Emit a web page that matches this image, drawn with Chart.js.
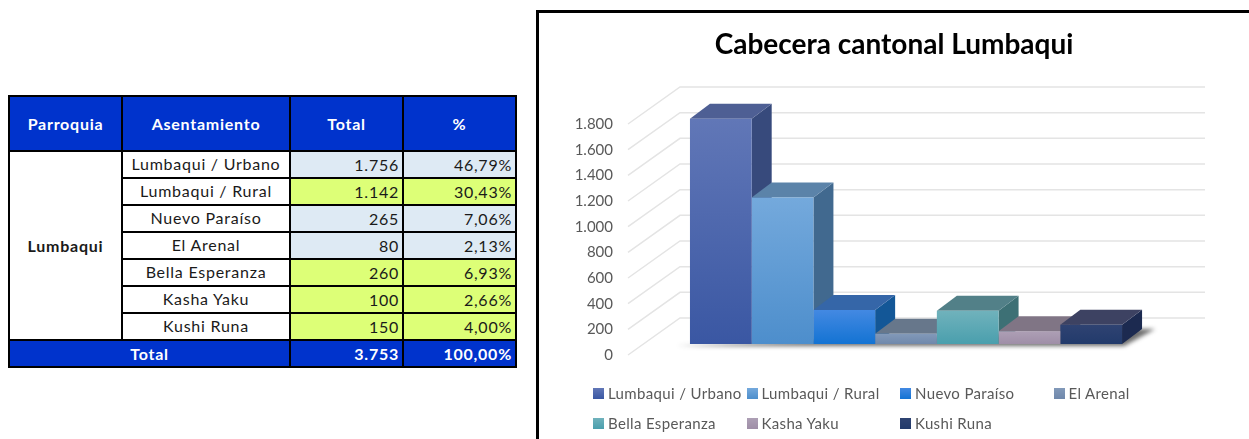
<!DOCTYPE html>
<html lang="es">
<head>
<meta charset="utf-8">
<title>Cabecera cantonal Lumbaqui</title>
<script src="https://cdn.jsdelivr.net/npm/chart.js@4"></script>
<style>
  html, body { margin: 0; padding: 0; background: #fff; width: 1249px; height: 439px; overflow: hidden; font-family: Lato, sans-serif; }
  #tableWrap { position: absolute; left: 8px; top: 95px; }
  table { border-collapse: collapse; table-layout: fixed; width: 507px; font-size: 16px; color: #1a1a1a; letter-spacing: 0.75px; }
  th, td { border: 2px solid #000; padding: 0; height: 25px; text-align: center; }
  thead th { height: 53px; background: #0033cc; color: #fff; font-size: 16px; }
  td.name { padding-bottom: 2px; height: 23px; }
  td.num { text-align: right; padding-right: 3px; }
  td.parish { font-weight: bold; font-size: 16px; }
  tr.total td { background: #0033cc; color: #fff; font-weight: bold; font-size: 16px; }
  #chartBox { position: absolute; left: 536px; top: 10px; width: 716px; height: 432px; border: 3px solid #000; box-sizing: border-box; overflow: hidden; background: #fff; }
  #chartBox canvas { position: absolute; left: 0; top: 0; }
  #title { position: absolute; left: 0; top: 12px; width: 710px; text-align: center; font-size: 28px; line-height: 36px; font-weight: bold; color: #000; }
  #legend { position: absolute; left: 54px; top: 367px; width: 640px; display: grid; grid-template-columns: 153.5px 153.5px 153.5px 153.5px; grid-auto-rows: 30px; font-size: 15px; color: #595959; letter-spacing: 0.35px; }
  #legend div { display: flex; align-items: center; white-space: nowrap; height: 26px; }
  #legend i { display: inline-block; width: 11px; height: 11px; margin-right: 4px; flex: none; }
</style>
</head>
<body>
<div id="tableWrap"></div>
<div id="chartBox">
  <canvas id="chart" width="710" height="426"></canvas>
  <div id="title"></div>
  <div id="legend"></div>
</div>
<script>
// ---- data ----
const categories = ['Lumbaqui / Urbano', 'Lumbaqui / Rural', 'Nuevo Paraíso', 'El Arenal', 'Bella Esperanza', 'Kasha Yaku', 'Kushi Runa'];
const totals = [1756, 1142, 265, 80, 260, 100, 150];
const percents = ['46,79%', '30,43%', '7,06%', '2,13%', '6,93%', '2,66%', '4,00%'];
const rowFills = ['#deeaf4', '#ddff77', '#deeaf4', '#deeaf4', '#ddff77', '#ddff77', '#ddff77'];
const headers = ['Parroquia', 'Asentamiento', 'Total', '%'];
const parish = 'Lumbaqui';
const totalLabel = 'Total';
const grandTotal = '3.753';
const grandPercent = '100,00%';
const chartTitle = 'Cabecera cantonal Lumbaqui';

// bar face colours, one per series
const frontTop = ['#6177b7', '#74a9dc', '#4389e2', '#8299b9', '#70b2bc', '#ad9fb5', '#2f4372'];
const frontBottom = ['#3a57a3', '#4d8ecc', '#1373d3', '#6f88ab', '#4a9fad', '#9f8ea7', '#223a6b'];
const topFace = ['#4e5f94', '#5b83a9', '#3566a8', '#67778b', '#528088', '#807585', '#3d4262'];
const sideFace = ['#374a7c', '#41698f', '#135797', '#55657c', '#3d7075', '#6b6070', '#1c2a50'];

// 3D look: floor depth and bar depth
const WALL_DX = 52, WALL_DY = 37;
const BAR_DX = 20, BAR_DY = 15;
const BAR_SHIFT_X = 15.5, BAR_SHIFT_Y = 11;

const fmt = v => v.toLocaleString('de-DE');

// ---- table ----
function buildTable() {
  let html = '<table><colgroup><col style="width:113px"><col style="width:168px"><col style="width:113px"><col style="width:113px"></colgroup><thead><tr>';
  headers.forEach(h => { html += '<th>' + h + '</th>'; });
  html += '</tr></thead><tbody>';
  categories.forEach((c, i) => {
    html += '<tr>';
    if (i === 0) html += '<td class="parish" rowspan="' + categories.length + '">' + parish + '</td>';
    html += '<td class="name">' + c + '</td>';
    html += '<td class="num" style="background:' + rowFills[i] + '">' + fmt(totals[i]) + '</td>';
    html += '<td class="num" style="background:' + rowFills[i] + '">' + percents[i] + '</td></tr>';
  });
  html += '<tr class="total"><td colspan="2">' + totalLabel + '</td><td class="num">' + grandTotal + '</td><td class="num">' + grandPercent + '</td></tr>';
  html += '</tbody></table>';
  document.getElementById('tableWrap').innerHTML = html;
}

// ---- legend ----
function buildLegend() {
  document.getElementById('legend').innerHTML = categories.map((c, i) =>
    '<div><i style="background:linear-gradient(' + frontTop[i] + ',' + frontBottom[i] + ')"></i>' + c + '</div>').join('');
}

// side wall lines and back grid, then the depth faces of the bars
const walls3d = {
  id: 'walls3d',
  beforeDatasetsDraw(chart) {
    const { ctx, scales: { y }, chartArea } = chart;
    ctx.save();
    ctx.lineWidth = 1.5;
    ctx.strokeStyle = '#e4e4e4';
    y.ticks.forEach(t => {
      const p = y.getPixelForValue(t.value);
      ctx.beginPath();
      ctx.moveTo(chartArea.left, p);
      ctx.lineTo(chartArea.left + WALL_DX, p - WALL_DY);
      ctx.lineTo(chartArea.right + WALL_DX, p - WALL_DY);
      ctx.stroke();
    });
    ctx.restore();

    // everything for the bars sits deeper than the axis plane
    ctx.save();
    ctx.translate(BAR_SHIFT_X, -BAR_SHIFT_Y);

    const first = chart.getDatasetMeta(0).data[0];
    const last = chart.getDatasetMeta(categories.length - 1).data[0];
    const base = first.base;
    ctx.save();
    ctx.filter = 'blur(2px)';
    ctx.fillStyle = 'rgba(30,30,30,0.65)';
    ctx.beginPath();
    ctx.moveTo(first.x - first.width / 2 - 13, base + 2);
    ctx.lineTo(last.x + last.width / 2 + 2, base + 2);
    ctx.lineTo(last.x + last.width / 2 + BAR_DX + 13, base - BAR_DY);
    ctx.lineTo(last.x + last.width / 2, base - BAR_DY);
    ctx.closePath();
    ctx.fill();
    ctx.restore();

    categories.forEach((c, i) => {
      const b = chart.getDatasetMeta(i).data[0];
      const l = b.x - b.width / 2, r = b.x + b.width / 2;
      ctx.fillStyle = sideFace[i];
      ctx.beginPath();
      ctx.moveTo(r, b.y);
      ctx.lineTo(r + BAR_DX, b.y - BAR_DY);
      ctx.lineTo(r + BAR_DX, b.base - BAR_DY);
      ctx.lineTo(r, b.base);
      ctx.closePath();
      ctx.fill();
      ctx.fillStyle = topFace[i];
      ctx.beginPath();
      ctx.moveTo(l, b.y);
      ctx.lineTo(l + BAR_DX, b.y - BAR_DY);
      ctx.lineTo(r + BAR_DX, b.y - BAR_DY);
      ctx.lineTo(r, b.y);
      ctx.closePath();
      ctx.fill();
    });
  },
  afterDatasetsDraw(chart) {
    chart.ctx.restore();
  }
};

function frontGradient(i) {
  return function (context) {
    const { chart } = context;
    const y = chart.scales.y;
    if (!y) return frontBottom[i];
    const y0 = y.getPixelForValue(totals[i]);
    const y1 = y.getPixelForValue(0);
    // scales are not laid out on the first option pass
    if (!Number.isFinite(y0) || !Number.isFinite(y1)) return frontBottom[i];
    const g = chart.ctx.createLinearGradient(0, y0, 0, y1);
    g.addColorStop(0, frontTop[i]);
    g.addColorStop(1, frontBottom[i]);
    return g;
  };
}

buildTable();
buildLegend();
document.getElementById('title').textContent = chartTitle;

new Chart(document.getElementById('chart'), {
  type: 'bar',
  data: {
    labels: [''],
    datasets: categories.map((c, i) => ({
      label: c,
      data: [totals[i]],
      backgroundColor: frontGradient(i),
      borderWidth: 0,
      barPercentage: 1,
      categoryPercentage: 0.823
    }))
  },
  options: {
    responsive: false,
    animation: false,
    layout: { padding: { top: 111, right: 96, bottom: 84 } },
    plugins: {
      legend: { display: false },
      tooltip: { enabled: false },
      title: { display: false }
    },
    scales: {
      x: { display: false },
      y: {
        min: 0,
        max: 1800,
        afterFit(scale) { scale.width = 89; },
        grid: { display: false },
        border: { display: false },
        ticks: {
          stepSize: 200,
          padding: 7,
          color: '#595959',
          font: { family: 'Lato', size: 15 },
          callback: v => fmt(v)
        }
      }
    }
  },
  plugins: [walls3d]
});
</script>
</body>
</html>
